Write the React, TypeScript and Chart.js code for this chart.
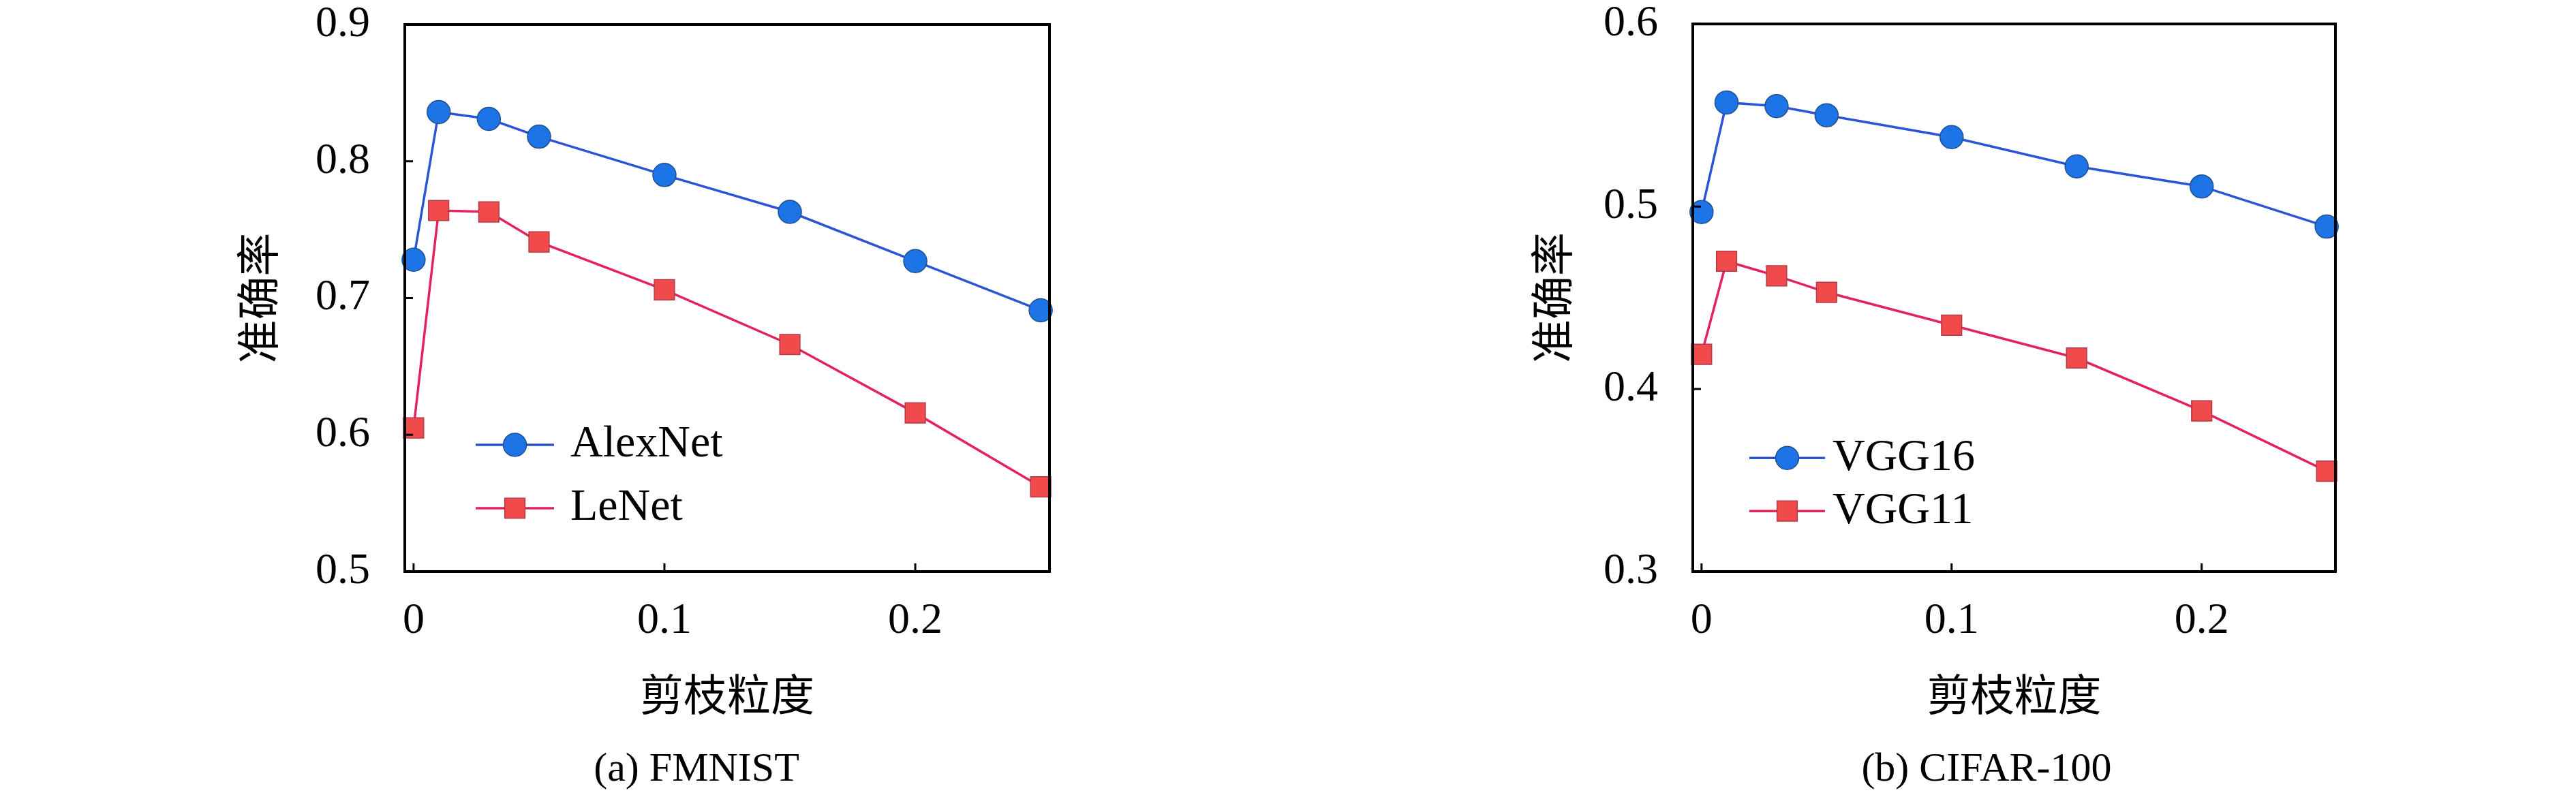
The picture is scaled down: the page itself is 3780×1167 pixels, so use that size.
import React, { useEffect, useRef } from "react";
import { Chart, registerables } from "chart.js";
import { drawPoint } from "chart.js/helpers";

Chart.register(...registerables);

// ---- data ----
const pruneRates = [0, 0.01, 0.03, 0.05, 0.1, 0.15, 0.2, 0.25];
const alexNet = [0.728, 0.836, 0.831, 0.818, 0.79, 0.763, 0.727, 0.691];
const leNet = [0.605, 0.764, 0.763, 0.741, 0.706, 0.666, 0.616, 0.562];
const vgg16 = [0.497, 0.557, 0.555, 0.55, 0.538, 0.522, 0.511, 0.489];
const vgg11 = [0.419, 0.47, 0.462, 0.453, 0.435, 0.417, 0.388, 0.355];
const xTickValues = [0, 0.1, 0.2];
const yTicksFmnist = [0.5, 0.6, 0.7, 0.8, 0.9];
const yTicksCifar = [0.3, 0.4, 0.5, 0.6];
const xTitle = "剪枝粒度";
const yTitle = "准确率";

const SERIF = '"Liberation Serif", "Noto Sans CJK SC", serif';
const CJK = '"Noto Sans CJK SC", "Liberation Serif", sans-serif';

const BLUE_LINE = "#2b55d6";
const BLUE_FILL = "#1c74e6";
const BLUE_EDGE = "#21508f";
const RED_LINE = "#e3245a";
const RED_FILL = "#f04a4a";
const RED_EDGE = "#b23a4a";

const W = 1890;
const H = 1167;

const framePlugin = {
  id: "frame",
  afterDatasetsDraw(chart: any) {
    const { ctx, chartArea: a, scales } = chart;
    ctx.save();
    ctx.strokeStyle = "#000";
    ctx.lineWidth = 3;
    ctx.beginPath();
    for (const t of scales.x.ticks) {
      const px = scales.x.getPixelForValue(t.value);
      ctx.moveTo(px, a.bottom);
      ctx.lineTo(px, a.bottom - 12);
    }
    for (const t of scales.y.ticks) {
      const py = scales.y.getPixelForValue(t.value);
      ctx.moveTo(a.left, py);
      ctx.lineTo(a.left + 12, py);
    }
    ctx.stroke();
    ctx.lineWidth = 4;
    ctx.strokeRect(a.left, a.top, a.right - a.left, a.bottom - a.top);
    ctx.restore();
  },
};

const lineLegendPlugin = {
  id: "lineLegend",
  afterDatasetsDraw(chart: any, _args: any, opts: any) {
    const { ctx, chartArea: a } = chart;
    chart.data.datasets.forEach((ds: any, i: number) => {
      const y = a.top + opts.y + i * opts.gap;
      const x0 = a.left + opts.x;
      ctx.save();
      ctx.strokeStyle = ds.borderColor;
      ctx.lineWidth = ds.borderWidth;
      ctx.beginPath();
      ctx.moveTo(x0, y);
      ctx.lineTo(x0 + opts.lineLen, y);
      ctx.stroke();
      ctx.fillStyle = ds.pointBackgroundColor;
      ctx.strokeStyle = ds.pointBorderColor;
      ctx.lineWidth = ds.pointBorderWidth;
      drawPoint(
        ctx,
        { pointStyle: ds.pointStyle, radius: ds.pointRadius, borderWidth: ds.pointBorderWidth, rotation: 0 },
        x0 + opts.lineLen / 2,
        y
      );
      ctx.fillStyle = "#000";
      ctx.font = `${opts.fontSize}px ${SERIF}`;
      ctx.textBaseline = "middle";
      ctx.textAlign = "left";
      ctx.fillText(ds.label, a.left + opts.textX, y);
      ctx.restore();
    });
  },
};

type PanelProps = {
  series: { label: string; values: number[]; kind: "blue" | "red" }[];
  yMin: number;
  yMax: number;
  yTicks: number[];
  yTitleX: number;
  legend: { x: number; y: number; gap: number; lineLen: number; textX: number; fontSize: number };
  rightPad: number;
  topPad: number;
};

function Panel(props: PanelProps) {
  const ref = useRef<HTMLCanvasElement | null>(null);
  useEffect(() => {
    if (!ref.current) return;
    const datasets = props.series.map((s) => {
      const blue = s.kind === "blue";
      return {
        label: s.label,
        data: pruneRates.map((x, i) => ({ x, y: s.values[i] })),
        borderColor: blue ? BLUE_LINE : RED_LINE,
        borderWidth: 3.5,
        pointStyle: blue ? "circle" : "rect",
        pointRadius: blue ? 17 : 21,
        pointBackgroundColor: blue ? BLUE_FILL : RED_FILL,
        pointBorderColor: blue ? BLUE_EDGE : RED_EDGE,
        pointBorderWidth: 1.5,
        clip: false,
        tension: 0,
      };
    });
    const tickFont = { family: SERIF, size: 64, lineHeight: 1.1 };
    const chart = new Chart(ref.current, {
      type: "line",
      data: { datasets } as any,
      plugins: [framePlugin, lineLegendPlugin],
      options: {
        responsive: false,
        animation: false,
        devicePixelRatio: 1,
        layout: { autoPadding: false, padding: { top: props.topPad, right: props.rightPad, left: 0, bottom: 0 } },
        plugins: {
          legend: { display: false },
          tooltip: { enabled: false },
          title: { display: false },
          lineLegend: props.legend,
        } as any,
        scales: {
          x: {
            type: "linear",
            min: -0.0035,
            max: 0.2535,
            afterBuildTicks: (s: any) => {
              s.ticks = xTickValues.map((v) => ({ value: v }));
            },
            afterFit: (s: any) => {
              s.height = 328;
            },
            grid: { display: false, drawTicks: true, tickLength: 37.8 },
            border: { display: false },
            ticks: {
              padding: 0,
              font: tickFont,
              color: "#000",
              maxRotation: 0,
              autoSkip: false,
              callback: (v: any) => String(v),
            },
            title: {
              display: true,
              text: xTitle,
              color: "#000",
              font: { family: CJK, size: 64, lineHeight: 1.2 },
              padding: { top: 0, bottom: 109.6 },
            },
          },
          y: {
            type: "linear",
            min: props.yMin,
            max: props.yMax,
            afterBuildTicks: (s: any) => {
              s.ticks = props.yTicks.map((v) => ({ value: v }));
            },
            afterFit: (s: any) => {
              s.width = 594;
            },
            grid: { display: false, drawTicks: true, tickLength: 51 },
            border: { display: false },
            ticks: {
              padding: 0,
              font: tickFont,
              color: "#000",
              autoSkip: false,
              callback: (v: any) => String(v),
            },
            title: {
              display: true,
              text: yTitle,
              color: "#000",
              font: { family: CJK, size: 64, lineHeight: 1.2 },
              padding: { top: props.yTitleX - 38.4, bottom: 0 },
            },
          },
        },
      } as any,
    });
    return () => chart.destroy();
  }, []);
  return <canvas ref={ref} width={W} height={H} style={{ width: W, height: H, display: "block" }} />;
}

const captionStyle = (cx: number): React.CSSProperties => ({
  position: "absolute",
  left: cx - 500,
  top: 1096,
  width: 1000,
  textAlign: "center",
  fontFamily: SERIF,
  fontSize: 60,
  lineHeight: "60px",
  whiteSpace: "nowrap",
  color: "#000",
});

export default function App() {
  return (
    <div style={{ position: "absolute", left: 0, top: 0, width: 3780, height: 1167, background: "#fff", overflow: "hidden" }}>
      <div style={{ position: "absolute", left: 0, top: 0 }}>
        <Panel
          series={[
            { label: "AlexNet", values: alexNet, kind: "blue" },
            { label: "LeNet", values: leNet, kind: "red" },
          ]}
          yMin={0.5}
          yMax={0.9}
          yTicks={yTicksFmnist}
          yTitleX={378}
          rightPad={350}
          topPad={36}
          legend={{ x: 104, y: 617, gap: 93, lineLen: 115, textX: 243, fontSize: 66 }}
        />
      </div>
      <div style={{ position: "absolute", left: 1890, top: 0 }}>
        <Panel
          series={[
            { label: "VGG16", values: vgg16, kind: "blue" },
            { label: "VGG11", values: vgg11, kind: "red" },
          ]}
          yMin={0.3}
          yMax={0.6}
          yTicks={yTicksCifar}
          yTitleX={387}
          rightPad={353}
          topPad={35}
          legend={{ x: 83, y: 637, gap: 78, lineLen: 111, textX: 205, fontSize: 66 }}
        />
      </div>
      <div style={captionStyle(1022)}>(a) FMNIST</div>
      <div style={captionStyle(2915)}>(b) CIFAR-100</div>
    </div>
  );
}
